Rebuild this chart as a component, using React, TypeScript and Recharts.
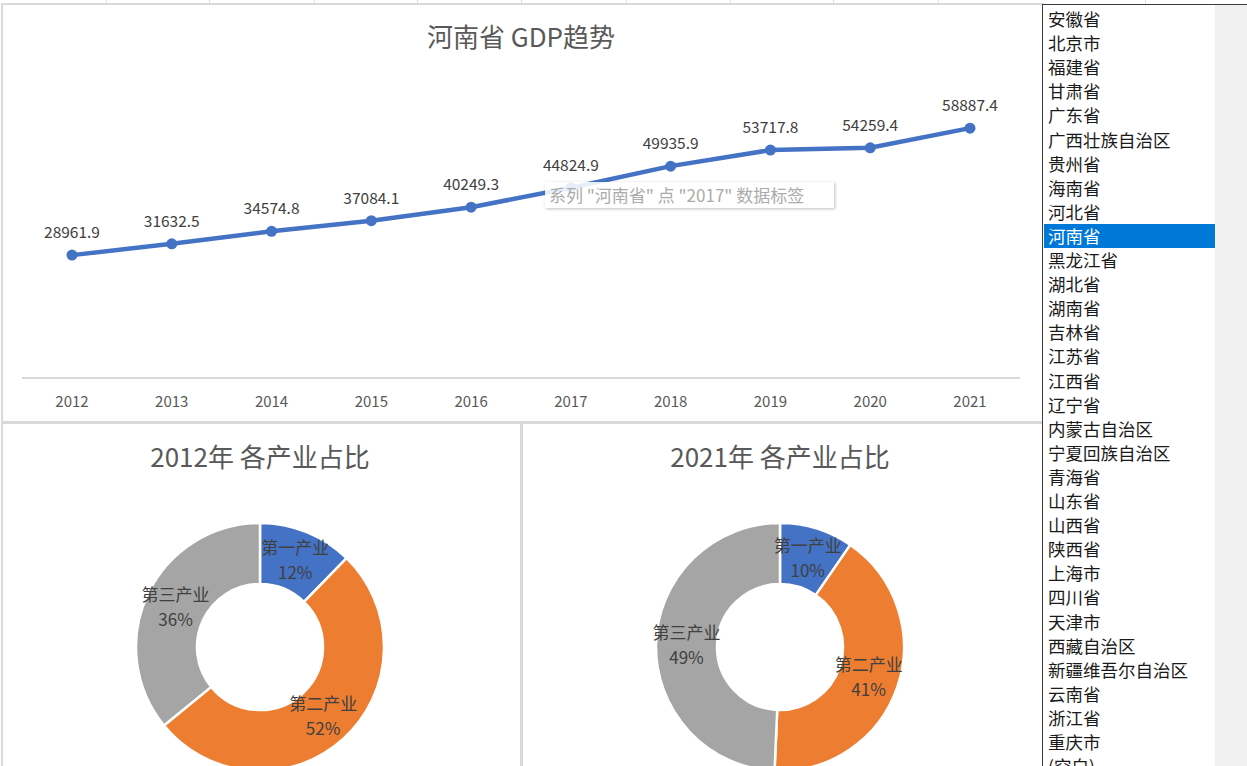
import React from 'react';
import { LineChart, Line, XAxis, YAxis, LabelList, PieChart, Pie, Cell } from 'recharts';

const years = ['2012', '2013', '2014', '2015', '2016', '2017', '2018', '2019', '2020', '2021'];
const gdp = [28961.9, 31632.5, 34574.8, 37084.1, 40249.3, 44824.9, 49935.9, 53717.8, 54259.4, 58887.4];
const industries = ['第一产业', '第二产业', '第三产业'];
const share2012 = [12.3, 51.8, 35.9];
const share2021 = [9.6, 41.1, 49.3];
const pieColors = ['#4472C4', '#ED7D31', '#A5A5A5'];
const provinces = [
  '安徽省', '北京市', '福建省', '甘肃省', '广东省', '广西壮族自治区', '贵州省', '海南省', '河北省', '河南省',
  '黑龙江省', '湖北省', '湖南省', '吉林省', '江苏省', '江西省', '辽宁省', '内蒙古自治区', '宁夏回族自治区', '青海省',
  '山东省', '山西省', '陕西省', '上海市', '四川省', '天津市', '西藏自治区', '新疆维吾尔自治区', '云南省', '浙江省',
  '重庆市', '(空白)',
];
const selectedProvince = '河南省';
const gridXs = [106, 209, 314, 417, 521, 626, 730, 833, 938, 1145];

const lineData = years.map((y, i) => ({ year: y, value: gdp[i] }));
const pie2012 = industries.map((n, i) => ({ name: n, value: share2012[i] }));
const pie2021 = industries.map((n, i) => ({ name: n, value: share2021[i] }));

const FONT = '"Noto Sans CJK SC", "Noto Sans", sans-serif';

const renderPieLabel = (props: any) => {
  const { cx, cy, midAngle, innerRadius, outerRadius, name, percent } = props;
  const r = (innerRadius + outerRadius) / 2;
  const rad = Math.PI / 180;
  const x = cx + r * Math.cos(-midAngle * rad);
  const y = cy + r * Math.sin(-midAngle * rad);
  return (
    <text x={x} y={y} textAnchor="middle" fill="#404040" fontSize={17} fontFamily={FONT}>
      <tspan x={x} dy={-6}>{name}</tspan>
      <tspan x={x} dy={25}>{Math.round(percent * 100)}%</tspan>
    </text>
  );
};

const Donut = ({ data, left, title }: { data: any[]; left: number; title: string }) => (
  <div style={{ position: 'absolute', left, top: 422, width: 520, height: 344, overflow: 'hidden' }}>
    <div style={{ position: 'absolute', left: 0, top: 19, width: 520, textAlign: 'center', fontSize: 26, lineHeight: '30px', color: '#595959', fontFamily: FONT }}>
      {title}
    </div>
    <div style={{ position: 'absolute', left: 0, top: 0 }}>
      <PieChart width={520} height={460} margin={{ top: 0, right: 0, bottom: 0, left: 0 }}>
        <Pie
          data={data}
          dataKey="value"
          nameKey="name"
          cx={260}
          cy={225}
          innerRadius={63}
          outerRadius={124}
          startAngle={90}
          endAngle={-270}
          stroke="#ffffff"
          strokeWidth={2.5}
          label={renderPieLabel}
          labelLine={false}
          isAnimationActive={false}
        >
          {data.map((d, i) => (
            <Cell key={d.name} fill={pieColors[i]} />
          ))}
        </Pie>
      </PieChart>
    </div>
  </div>
);

export default function App() {
  return (
    <div style={{ position: 'absolute', left: 0, top: 0, width: 1247, height: 766, overflow: 'hidden', background: '#ffffff', fontFamily: FONT }}>
      {gridXs.map((x) => (
        <div key={x} style={{ position: 'absolute', left: x, top: 0, width: 1, height: 4, background: '#e1e1e1' }} />
      ))}

      {/* top chart panel */}
      <div style={{ position: 'absolute', left: 1, top: 3, width: 1043, height: 421, border: '2px solid #d9d9d9', boxSizing: 'border-box' }} />
      <div style={{ position: 'absolute', left: 0, top: 21, width: 1042, textAlign: 'center', fontSize: 26, lineHeight: '30px', color: '#595959' }}>
        河南省 GDP趋势
      </div>
      <div style={{ position: 'absolute', left: 0, top: 0 }}>
        <LineChart width={1040} height={422} data={lineData} margin={{ top: 81, right: 20, left: 22, bottom: 14 }}>
          <XAxis
            dataKey="year"
            interval={0}
            padding={{ left: 50, right: 50 }}
            axisLine={{ stroke: '#d9d9d9', strokeWidth: 2 }}
            tickLine={false}
            tickMargin={12}
            height={30}
            tick={{ fill: '#595959', fontSize: 15, fontFamily: FONT }}
          />
          <YAxis hide domain={[0, 70000]} />
          <Line
            dataKey="value"
            stroke="#4472C4"
            strokeWidth={4.5}
            dot={{ r: 5.5, fill: '#4472C4', stroke: '#4472C4', strokeWidth: 0 }}
            isAnimationActive={false}
          >
            <LabelList dataKey="value" position="top" offset={17} fill="#404040" fontSize={15.5} fontFamily={FONT} />
          </Line>
        </LineChart>
      </div>
      <div style={{ position: 'absolute', left: 545, top: 182, width: 289, height: 26, background: 'rgba(255,255,255,0.88)', boxShadow: '1px 1px 3px rgba(0,0,0,0.25)', color: '#ababab', fontSize: 17, lineHeight: '26px', paddingLeft: 4, boxSizing: 'border-box', whiteSpace: 'nowrap' }}>
        系列 "河南省" 点 "2017" 数据标签
      </div>

      {/* bottom panels */}
      <div style={{ position: 'absolute', left: 1, top: 421, width: 522, height: 360, border: '2px solid #d9d9d9', boxSizing: 'border-box' }} />
      <div style={{ position: 'absolute', left: 520, top: 421, width: 524, height: 360, border: '2px solid #d9d9d9', boxSizing: 'border-box' }} />
      <Donut data={pie2012} left={0} title="2012年 各产业占比" />
      <Donut data={pie2021} left={520} title="2021年 各产业占比" />

      {/* list box */}
      <div style={{ position: 'absolute', left: 1042, top: 4, width: 205, height: 770, border: '1px solid #3c3c3c', boxSizing: 'border-box', background: '#ffffff' }}>
        <div style={{ position: 'absolute', left: 172, top: 0, width: 32, height: 770, background: '#f0f0f0' }} />
        {provinces.map((p, i) => {
          const sel = p === selectedProvince;
          return (
            <div
              key={p}
              style={{
                position: 'absolute',
                left: 1,
                top: 2 + i * 24.1,
                width: 171,
                height: 24,
                lineHeight: '24px',
                fontSize: 17.5,
                paddingLeft: 4,
                boxSizing: 'border-box',
                background: sel ? '#0078D7' : 'transparent',
                color: sel ? '#ffffff' : '#1a1a1a',
                whiteSpace: 'nowrap',
              }}
            >
              {p}
            </div>
          );
        })}
      </div>
    </div>
  );
}
